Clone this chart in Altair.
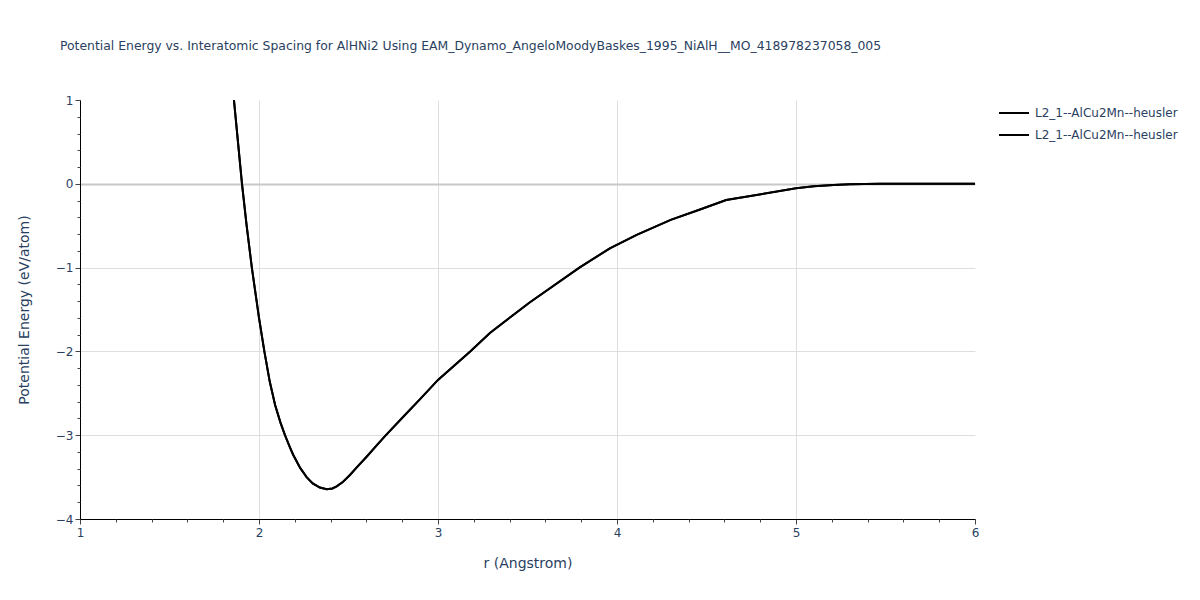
import altair as alt
import pandas as pd

# ---- data ----
r_vals = [1.86, 1.905, 1.93, 1.96, 2.0, 2.03, 2.06, 2.09, 2.12, 2.145, 2.17, 2.19,
          2.23, 2.266, 2.30, 2.34, 2.378, 2.41, 2.434, 2.47, 2.508, 2.55, 2.60, 2.65, 2.70,
          2.806, 2.9, 3.0, 3.18, 3.29, 3.51, 3.79, 3.96, 4.11, 4.30, 4.46, 4.61,
          5.0, 5.1, 5.21, 5.3, 5.47, 6.0]
e_vals = [1.0, 0.0, -0.48, -1.0, -1.6, -2.0, -2.36, -2.64, -2.85, -3.0, -3.13, -3.23,
          -3.39, -3.50, -3.575, -3.625, -3.645, -3.635, -3.61, -3.555, -3.475, -3.375, -3.26, -3.14, -3.02,
          -2.78, -2.57, -2.34, -2.0, -1.78, -1.42, -1.0, -0.77, -0.61, -0.43, -0.31, -0.193,
          -0.054, -0.03, -0.014, -0.005, 0.0, 0.0]
series_keys = ["s1", "s2"]
series_label = "L2_1--AlCu2Mn--heusler"

x_major = [1, 2, 3, 4, 5, 6]
x_grid = [2, 3, 4, 5]
x_minor = [1.2, 1.4, 1.6, 1.8, 2.2, 2.4, 2.6, 2.8, 3.2, 3.4, 3.6, 3.8,
           4.2, 4.4, 4.6, 4.8, 5.2, 5.4, 5.6, 5.8]
y_major = [-4, -3, -2, -1, 0, 1]
y_grid = [-3, -2, -1, 0]
y_minor = [-3.8, -3.6, -3.4, -3.2, -2.8, -2.6, -2.4, -2.2, -1.8, -1.6, -1.4, -1.2,
           -0.8, -0.6, -0.4, -0.2, 0.2, 0.4, 0.6, 0.8]

rows = []
for k in series_keys:
    for r, e in zip(r_vals, e_vals):
        rows.append({"r": r, "E": e, "s": k})
df = pd.DataFrame(rows)

FONT = "DejaVu Sans"
TXT = "#2a3f5f"
GRID = "#dedede"

xscale = alt.Scale(domain=[1, 6], nice=False, zero=False)
yscale = alt.Scale(domain=[-4, 1], nice=False, zero=False)

gridlayer = alt.Chart(df).mark_line(opacity=0).encode(
    x=alt.X("r:Q", scale=xscale,
            axis=alt.Axis(title=None, values=x_grid, labels=False, ticks=False, domain=False,
                          grid=True, gridColor=GRID, gridWidth=1, orient="bottom")),
    y=alt.Y("E:Q", scale=yscale,
            axis=alt.Axis(title=None, values=y_grid, labels=False, ticks=False, domain=False,
                          grid=True,
                          gridColor=alt.condition("datum.value == 0", alt.value("#c8c8c8"), alt.value(GRID)),
                          gridWidth=alt.condition("datum.value == 0", alt.value(2), alt.value(1)),
                          orient="left")),
    detail="s:N",
)

main = alt.Chart(df).mark_line(strokeWidth=2, clip=True).encode(
    x=alt.X("r:Q", scale=xscale,
            axis=alt.Axis(title="r (Angstrom)", values=x_major, format="d", grid=False,
                          domainColor="black", domainWidth=1,
                          tickColor="#444444", tickSize=5, tickWidth=1,
                          labelColor=TXT, labelFontSize=12, labelFont=FONT, labelPadding=3,
                          labelFlush=False,
                          titleColor=TXT, titleFontSize=14, titleFont=FONT,
                          titleFontWeight="normal", titlePadding=18, orient="bottom")),
    y=alt.Y("E:Q", scale=yscale,
            axis=alt.Axis(title="Potential Energy (eV/atom)", values=y_major, format="d", grid=False,
                          domainColor="black", domainWidth=1,
                          tickColor="#444444", tickSize=5, tickWidth=1,
                          labelColor=TXT, labelFontSize=12, labelFont=FONT, labelPadding=2,
                          labelFlush=False,
                          titleColor=TXT, titleFontSize=14, titleFont=FONT,
                          titleFontWeight="normal", titlePadding=24, orient="left")),
    color=alt.Color("s:N", scale=alt.Scale(domain=series_keys, range=["black", "black"]),
                    legend=alt.Legend(title=None, orient="none", legendX=918, legendY=-3,
                                      symbolType="stroke", symbolSize=900, symbolStrokeWidth=2,
                                      labelExpr=f"'{series_label}'", labelFont=FONT,
                                      labelFontSize=12, labelColor=TXT, labelOffset=5,
                                      rowPadding=-9, padding=0, labelLimit=400)),
)

minor = alt.Chart(df).mark_line(opacity=0).encode(
    x=alt.X("r:Q", scale=xscale,
            axis=alt.Axis(title=None, values=x_minor, labels=False, grid=False, domain=False,
                          tickColor="#444444", tickSize=3, tickWidth=1, orient="bottom")),
    y=alt.Y("E:Q", scale=yscale,
            axis=alt.Axis(title=None, values=y_minor, labels=False, grid=False, domain=False,
                          tickColor="#444444", tickSize=3, tickWidth=1, orient="left")),
    detail="s:N",
)

chart = alt.layer(gridlayer, main, minor).resolve_axis(x="independent", y="independent").properties(
    width=895, height=419,
    background="white",
    autosize=alt.AutoSizeParams(type="none"),
    padding={"left": 72, "top": 92, "right": 217, "bottom": 73},
    title=alt.Title(
        "Potential Energy vs. Interatomic Spacing for AlHNi2 Using EAM_Dynamo_AngeloMoodyBaskes_1995_NiAlH__MO_418978237058_005",
        anchor="start", frame="group", dx=-20, offset=42, font=FONT, fontSize=12.4,
        fontWeight="normal", color=TXT),
).configure_view(stroke="transparent")

chart.save("out.html", embed_options={"renderer": "svg", "actions": False})
